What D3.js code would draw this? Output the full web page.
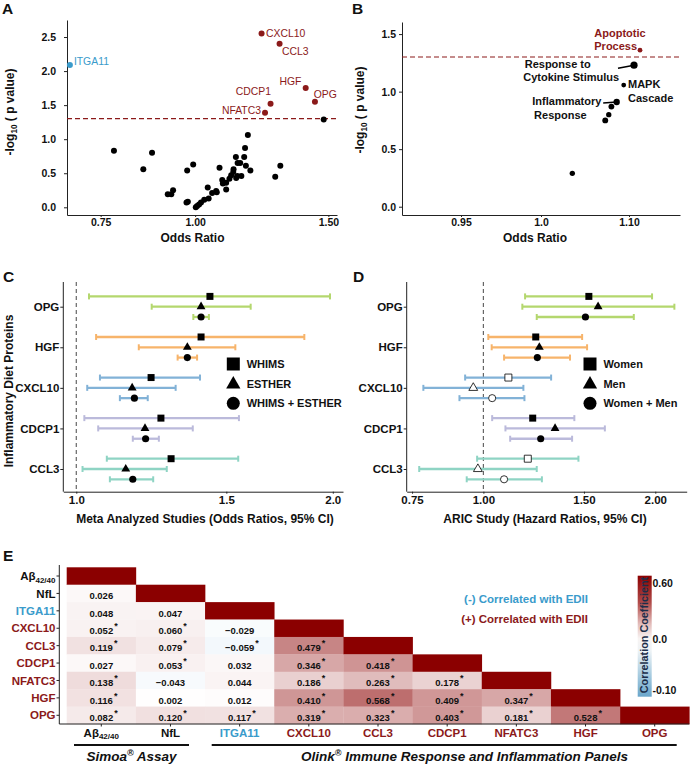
<!DOCTYPE html>
<html><head><meta charset="utf-8">
<script src="https://cdn.jsdelivr.net/npm/d3@7"></script>
<style>body{margin:0;background:#fff}</style>
</head><body>
<script>
// ---------------- DATA ----------------
// Panel A: volcano plot of proteins
const aHitGenes = ["CXCL10","CCL3","HGF","OPG","CDCP1","NFATC3","ITGA11"];
const aHitOR    = [1.224, 1.293, 1.400, 1.440, 1.258, 1.237, 0.683];
const aHitLogP  = [2.55, 2.40, 1.75, 1.55, 1.52, 1.39, 2.09];
const aHitDir   = ["+","+","+","+","+","+","-"];
const aOtherOR  = [0.781,0.877,0.854,0.976,0.994,0.920,0.930,0.935,0.974,0.978,1.002,1.006,1.012,1.018,1.028,1.042,1.039,1.066,1.068,1.077,1.086,1.088,1.099,1.110,1.116,1.123,1.124,1.133,1.137,1.151,1.132,1.138,1.147,1.161,1.164,1.174,1.167,1.183,1.276,1.296,1.479,1.099,1.053];
const aOtherLogP= [0.83,0.80,0.56,0.54,0.63,0.19,0.19,0.25,0.07,0.08,0.00,0.02,0.04,0.07,0.11,0.13,0.29,0.24,0.22,0.58,0.40,0.35,0.36,0.42,0.47,0.52,0.56,0.43,0.46,0.46,0.74,0.65,0.65,0.74,0.87,1.06,0.61,0.54,0.45,0.61,1.29,0.26,0.21];
const aXTicks = [0.75, 1.00, 1.50];
const aYTicks = [0.0, 0.5, 1.0, 1.5, 2.0, 2.5];

// Panel B: pathway enrichment
const bTermName = ["Apoptotic Process","Response to Cytokine Stimulus","MAPK Cascade","Inflammatory Response","","","",""];
const bTermOR   = [1.1125, 1.1057, 1.094, 1.086, 1.080, 1.077, 1.073, 1.0356];
const bTermLogP = [1.36, 1.23, 1.057, 0.91, 0.87, 0.80, 0.75, 0.29];
const bGeneCount= [4, 9, 4, 7, 6, 5, 6, 5];
const bXTicks = [0.95, 1.0, 1.10];
const bXTickLabels = ["0.95","1.0","1.10"];
const bYTicks = [0.0, 0.5, 1.0, 1.5];

// Panels C & D: forest plots
const proteins = ["OPG","HGF","CXCL10","CDCP1","CCL3"];
const cohortsC = ["WHIMS","ESTHER","WHIMS + ESTHER"];
const cOR = [[1.435,1.401,1.401],[1.401,1.350,1.350],[1.224,1.163,1.170],[1.257,1.204,1.206],[1.292,1.143,1.165]];
const cLo = [[1.035,1.226,1.372],[1.055,1.184,1.315],[1.066,1.030,1.125],[1.022,1.061,1.165],[1.086,1.017,1.095]];
const cHi = [[1.985,1.602,1.431],[1.852,1.537,1.386],[1.397,1.308,1.213],[1.552,1.370,1.250],[1.549,1.277,1.231]];
const cXTicks = [1.0, 1.5, 2.0];

const cohortsD = ["Women","Men","Women + Men"];
const dHR = [[1.530,1.588,1.509],[1.235,1.253,1.243],[1.106,0.960,1.036],[1.220,1.335,1.260],[1.196,0.978,1.087]];
const dLo = [[1.183,1.170,1.240],[1.020,1.034,1.087],[0.929,0.785,0.908],[1.036,1.093,1.114],[0.975,0.772,0.935]];
const dHi = [[1.974,2.160,1.834],[1.489,1.519,1.418],[1.314,1.175,1.180],[1.443,1.632,1.430],[1.467,1.240,1.266]];
const dSignificant = [true, true, false, true, false];
const dXTicks = [0.75, 1.00, 1.50, 2.00];

// Panel E: correlation heatmap (lower triangle)
const markers = ["Aβ42/40","NfL","ITGA11","CXCL10","CCL3","CDCP1","NFATC3","HGF","OPG"];
const markerDir = ["none","none","-","+","+","+","+","+","+"];
const corrRows = [[],[0.026],[0.048,0.047],[0.052,0.060,-0.029],[0.119,0.079,-0.059,0.479],
  [0.027,0.053,0.032,0.346,0.418],[0.138,-0.043,0.044,0.186,0.263,0.178],
  [0.116,0.002,0.012,0.410,0.568,0.409,0.347],[0.082,0.120,0.117,0.319,0.323,0.403,0.181,0.528]];
const corrSig = [[],[0],[0,0],[1,1,0],[1,1,1,1],[0,1,0,1,1],[1,0,0,1,1,1],[1,0,0,1,1,1,1],[1,1,1,1,1,1,1,1]];
const colorbarTicks = [0.60, 0.0, -0.10];
const colorbarLabels = ["0.60","0.0","-0.10"];

// ---------------- STYLE ----------------
const F = '"Liberation Sans", Arial, Helvetica, sans-serif';
const RED = "#8B1A1A", BLUE = "#3A9BCB";
const protColor = {"OPG":"#B4D76E","HGF":"#F7B46B","CXCL10":"#82B2D7","CDCP1":"#BBBADB","CCL3":"#8FD4C4"};

const svg = d3.select("body").append("svg").attr("width",700).attr("height",765)
  .attr("font-family",F);

function styleAxis(g,size){
  g.attr("font-family",F).attr("font-size",size);
  g.selectAll("text").attr("font-weight","bold").attr("fill","#111");
  g.select(".domain").attr("stroke","#222").attr("stroke-width",1);
  g.selectAll(".tick line").attr("stroke","#222");
}
function txt(g,x,y,s,size,opts={}){
  const t=g.append("text").attr("x",x).attr("y",y).attr("font-size",size)
    .attr("font-weight",opts.weight||"bold").attr("fill",opts.fill||"#111")
    .attr("text-anchor",opts.anchor||"start").text(s);
  if(opts.style) t.attr("font-style",opts.style);
  return t;
}
function ytitle(g,x,y,size){
  const t=g.append("text").attr("transform",`translate(${x},${y}) rotate(-90)`)
    .attr("text-anchor","middle").attr("font-size",size).attr("font-weight","bold").attr("fill","#111");
  t.append("tspan").text("-log");
  t.append("tspan").attr("font-size",size*0.68).attr("dy",3).text("10");
  t.append("tspan").attr("dy",-3).text(" ( p value)");
}

// panel letters
[["A",2,14],["B",352,14],["C",3,282],["D",353,282],["E",3,561]].forEach(d=>txt(svg,d[1],d[2],d[0],15.5));

// ---------------- PANEL A ----------------
{
  const g = svg.append("g");
  const x = d3.scaleLog().domain([0.677,1.54]).range([67,337]);
  const y = d3.scaleLinear().domain([-0.113,2.75]).range([215,20]);
  g.append("g").attr("transform","translate(0,215)")
    .call(d3.axisBottom(x).tickValues(aXTicks).tickFormat(d3.format(".2f")).tickSize(2).tickPadding(2).tickSizeOuter(0))
    .call(styleAxis,10.5);
  g.append("g").attr("transform","translate(67,0)")
    .call(d3.axisLeft(y).tickValues(aYTicks).tickFormat(d3.format(".1f")).tickSize(3).tickPadding(8).tickSizeOuter(0))
    .call(styleAxis,10.5);
  g.append("line").attr("x1",67).attr("x2",337).attr("y1",y(-Math.log10(0.05))).attr("y2",y(-Math.log10(0.05)))
    .attr("stroke",RED).attr("stroke-width",1.2).attr("stroke-dasharray","5,3");
  g.selectAll(".od").data(aOtherOR).join("circle").attr("cx",d=>x(d)).attr("cy",(d,i)=>y(aOtherLogP[i]))
    .attr("r",3).attr("fill","#000");
  const lab = {"CXCL10":[4.5,3,"start"],"CCL3":[2.4,10.7,"start"],"HGF":[-4.3,-3.3,"end"],"OPG":[-1.3,-3.7,"start"],
               "CDCP1":[0.4,-8.3,"end"],"NFATC3":[-4,1.6,"end"],"ITGA11":[4,-0.3,"start"]};
  aHitGenes.forEach((n,i)=>{
    const cx=x(aHitOR[i]), cy=y(aHitLogP[i]), col = aHitDir[i]==="+"?RED:BLUE;
    g.append("circle").attr("cx",cx).attr("cy",cy).attr("r",3).attr("fill",col);
    const o=lab[n];
    txt(g,cx+o[0],cy+o[1],n,10.4,{weight:"normal",fill:col,anchor:o[2]});
  });
  txt(g,192.5,241.5,"Odds Ratio",12,{anchor:"middle"});
  ytitle(g,14,112,12);
}

// ---------------- PANEL B ----------------
{
  const g = svg.append("g");
  const x = d3.scaleLinear().domain([0.913,0.95,1.0,1.10,1.158]).range([402,461,541,629,680]);
  const y = d3.scaleLinear().domain([-0.072,1.605]).range([215,22]);
  const r = d3.scaleSqrt().domain([0,9]).range([0,3.6]);
  g.append("g").attr("transform","translate(0,215)")
    .call(d3.axisBottom(x).tickValues(bXTicks).tickFormat((d,i)=>bXTickLabels[i]).tickSize(2).tickPadding(2).tickSizeOuter(0))
    .call(styleAxis,10.5);
  g.append("g").attr("transform","translate(402,0)")
    .call(d3.axisLeft(y).tickValues(bYTicks).tickFormat(d3.format(".1f")).tickSize(3).tickPadding(3).tickSizeOuter(0))
    .call(styleAxis,10.5);
  g.append("line").attr("x1",402).attr("x2",680).attr("y1",y(-Math.log10(0.05))).attr("y2",y(-Math.log10(0.05)))
    .attr("stroke",RED).attr("stroke-width",1.2).attr("stroke-dasharray","5,3");
  // leader lines
  g.append("line").attr("x1",x(bTermOR[1])-16).attr("y1",y(bTermLogP[1])+3.2).attr("x2",x(bTermOR[1])).attr("y2",y(bTermLogP[1]))
    .attr("stroke","#000").attr("stroke-width",1.5);
  g.append("line").attr("x1",x(bTermOR[3])-13.5).attr("y1",y(bTermLogP[3])+1).attr("x2",x(bTermOR[3])).attr("y2",y(bTermLogP[3]))
    .attr("stroke","#000").attr("stroke-width",1.5);
  bTermOR.forEach((d,i)=>{
    g.append("circle").attr("cx",x(d)).attr("cy",y(bTermLogP[i])).attr("r",r(bGeneCount[i]))
      .attr("fill", bTermLogP[i] > -Math.log10(0.05) ? RED : "#000");
  });
  const cx=i=>x(bTermOR[i]), cy=i=>y(bTermLogP[i]);
  // labels (two-line)
  const lines=[[0,"Apoptotic","Process",-45.7,-13.3,0,RED],[1,"Response to","Cytokine Stimulus",-109.3,2.4,-1.5,"#111"],
               [2,"MAPK","Cascade",4.3,3.3,0,"#111"],[3,"Inflammatory","Response",-84.4,3.3,1.8,"#111"]];
  lines.forEach(l=>{
    const i=l[0];
    txt(g,cx(i)+l[3],cy(i)+l[4],bTermName[i].startsWith(l[1])?l[1]:l[1],11,{fill:l[6]});
    txt(g,cx(i)+l[3]+l[5],cy(i)+l[4]+13.3,l[2],11,{fill:l[6]});
  });
  txt(g,535,241.5,"Odds Ratio",12,{anchor:"middle"});
  ytitle(g,364,110,12);
}

// ---------------- PANELS C & D ----------------
const rowOff = [-10.3, 0, 10.3];
const symT = [d3.symbolSquare, d3.symbolTriangle, d3.symbolCircle];
const symS = [49, 34, 40];
const symL = [169, 88, 133];

function forest(cfg){
  const g = svg.append("g");
  const x = d3.scaleLog().domain(cfg.dom).range([cfg.x0,cfg.x1]);
  const y = d3.scalePoint().domain(proteins).range([306.7,469]);
  g.append("g").attr("transform","translate(0,491.7)")
    .call(d3.axisBottom(x).tickValues(cfg.ticks).tickFormat(d3.format(cfg.fmt)).tickSize(2).tickPadding(2).tickSizeOuter(0))
    .call(styleAxis,11.5);
  g.append("line").attr("x1",cfg.x0).attr("x2",cfg.x0).attr("y1",282).attr("y2",491.7).attr("stroke","#222");
  const ya = g.append("g").attr("transform",`translate(${cfg.x0},0)`)
    .call(d3.axisLeft(y).tickSize(3).tickPadding(1).tickSizeOuter(0)).call(styleAxis,11.5);
  ya.select(".domain").remove();
  g.append("line").attr("x1",x(1)).attr("x2",x(1)).attr("y1",282).attr("y2",491.7)
    .attr("stroke","#666").attr("stroke-width",1.2).attr("stroke-dasharray","4,3");
  proteins.forEach((p,pi)=>{
    for(let k=0;k<3;k++){
      const yy=y(p)+rowOff[k], col=protColor[p];
      const lo=x(cfg.lo[pi][k]), hi=x(cfg.hi[pi][k]);
      g.append("line").attr("x1",lo).attr("x2",hi).attr("y1",yy).attr("y2",yy).attr("stroke",col).attr("stroke-width",2.3);
      [lo,hi].forEach(xx=>g.append("line").attr("x1",xx).attr("x2",xx).attr("y1",yy-3).attr("y2",yy+3).attr("stroke",col).attr("stroke-width",2));
      const open = cfg.sig && !cfg.sig[pi];
      g.append("path").attr("d",d3.symbol(symT[k],symS[k])())
        .attr("transform",`translate(${x(cfg.est[pi][k])},${yy})`)
        .attr("fill",open?"#fff":"#000").attr("stroke","#000").attr("stroke-width",open?0.8:0);
    }
  });
  cfg.cohorts.forEach((c,k)=>{
    const ly=[364,384.3,403.3][k];
    g.append("path").attr("d",d3.symbol(symT[k],symL[k])()).attr("transform",`translate(${cfg.lx},${ly})`).attr("fill","#000");
    txt(g,cfg.lx+13.4,ly+4,c,11);
  });
  txt(g,cfg.tx,523,cfg.title,12,{anchor:"middle"});
}
forest({dom:[0.9655,2.056],x0:63.3,x1:343,ticks:cXTicks,fmt:".1f",est:cOR,lo:cLo,hi:cHi,cohorts:cohortsC,lx:233.3,tx:205,
        title:"Meta Analyzed Studies (Odds Ratios, 95% CI)"});
forest({dom:[0.734,2.27],x0:406.7,x1:686.7,ticks:dXTicks,fmt:".2f",est:dHR,lo:dLo,hi:dHi,cohorts:cohortsD,lx:590,tx:545,sig:dSignificant,
        title:"ARIC Study (Hazard Ratios, 95% CI)"});
{
  const t=svg.append("text").attr("transform","translate(13,391) rotate(-90)").attr("text-anchor","middle")
    .attr("font-size",12).attr("font-weight","bold").attr("fill","#111").text("Inflammatory Diet Proteins");
}

// ---------------- PANEL E ----------------
{
  const g = svg.append("g");
  const xE = d3.scaleBand().domain(markers).range([66.7,689.3]);
  const yE = d3.scaleBand().domain(markers).range([567.3,724]);
  const color = d3.scaleLinear().domain([-1,0,1]).range(["#3B8FC6","#FFFFFF","#8B0000"]);
  const mcol = d=>markerDir[markers.indexOf(d)]==="+"?RED:(markerDir[markers.indexOf(d)]==="-"?BLUE:"#111");
  const cells=[];
  markers.forEach((rm,i)=>{
    markers.forEach((cm,j)=>{
      if(j<i) cells.push({r:rm,c:cm,v:corrRows[i][j],s:corrSig[i][j]});
      else if(j===i) cells.push({r:rm,c:cm,v:1,s:0,diag:true});
    });
  });
  g.selectAll(".cell").data(cells).join("rect").attr("x",d=>xE(d.c)).attr("y",d=>yE(d.r))
    .attr("width",xE.bandwidth()+0.3).attr("height",yE.bandwidth()+0.3).attr("fill",d=>color(d.v));
  const fmt=d3.format(".3f");
  cells.filter(d=>!d.diag).forEach(d=>{
    const cx=xE(d.c)+xE.bandwidth()/2, by=yE(d.r)+yE.bandwidth()-3;
    const t=txt(g,cx,by,fmt(d.v),9.5,{anchor:"middle"});
    if(d.s){
      const w=t.node().getComputedTextLength();
      txt(g,cx+w/2+1,by-5,"*",9,{});
    }
  });
  // axes
  g.append("line").attr("x1",59.3).attr("x2",59.3).attr("y1",565).attr("y2",724).attr("stroke","#222");
  g.append("line").attr("x1",59.3).attr("x2",689.3).attr("y1",724).attr("y2",724).attr("stroke","#222");
  markers.forEach(m=>{
    const yy=yE(m)+yE.bandwidth()/2, xx=xE(m)+xE.bandwidth()/2;
    g.append("line").attr("x1",56.5).attr("x2",59.3).attr("y1",yy).attr("y2",yy).attr("stroke","#222");
    g.append("line").attr("x1",xx).attr("x2",xx).attr("y1",724).attr("y2",726.5).attr("stroke","#222");
    const isAb = m.startsWith("Aβ");
    [[55.5,yy+4.2,"end"],[xx,736.5,"middle"]].forEach(p=>{
      const t=g.append("text").attr("x",p[0]).attr("y",p[1]).attr("text-anchor",p[2]).attr("font-size",11.5)
        .attr("font-weight","bold").attr("fill",mcol(m));
      if(isAb){ t.append("tspan").text("Aβ"); t.append("tspan").attr("font-size",8).attr("dy",2.5).text("42/40"); }
      else t.text(m);
    });
  });
  // brackets
  g.append("line").attr("x1",74).attr("x2",189).attr("y1",745).attr("y2",745).attr("stroke","#111").attr("stroke-width",2);
  g.append("line").attr("x1",211.7).attr("x2",676.7).attr("y1",745).attr("y2",745).attr("stroke","#111").attr("stroke-width",2);
  [[131.5,"Simoa","Assay"],[464.5,"Olink","Immune Response and Inflammation Panels"]].forEach(b=>{
    const t=g.append("text").attr("x",b[0]).attr("y",761).attr("text-anchor","middle").attr("font-size",13.5)
      .attr("font-weight","bold").attr("font-style","italic").attr("fill","#111");
    t.append("tspan").text(b[1]);
    t.append("tspan").attr("font-size",9).attr("dy",-5).text("®");
    t.append("tspan").attr("dy",5).text(" "+b[2]);
  });
  // legend text
  txt(g,588,602.5,"(-)  Correlated with EDII",11.5,{fill:BLUE,anchor:"end"});
  txt(g,588,622.5,"(+) Correlated with EDII",11.5,{fill:RED,anchor:"end"});
  // colour bar
  const cb = d3.scaleLinear().domain(colorbarTicks).range([583.3,639.3,690]);
  const defs=svg.append("defs");
  const gr=defs.append("linearGradient").attr("id","cbg").attr("x1",0).attr("x2",0).attr("y1",0).attr("y2",1);
  [[0,"#8B0000"],[0.22,"#B04A48"],[0.40,"#E3BDBB"],[0.52,"#F8F4F3"],[0.62,"#EEF3F6"],[0.82,"#A8CCE0"],[1,"#6AA6CB"]]
    .forEach(s=>gr.append("stop").attr("offset",s[0]).attr("stop-color",s[1]));
  g.append("rect").attr("x",637.7).attr("y",575.7).attr("width",14).attr("height",121).attr("fill","url(#cbg)");
  colorbarTicks.forEach((v,i)=>txt(g,652.5,cb(v)+3.8,colorbarLabels[i],10.5));
  g.append("text").attr("transform","translate(648.3,635) rotate(-90)").attr("text-anchor","middle")
    .attr("font-size",10.8).attr("font-weight","bold").attr("fill","#1c2e4a").text("Correlation Coefficient");
}
</script>
</body></html>
